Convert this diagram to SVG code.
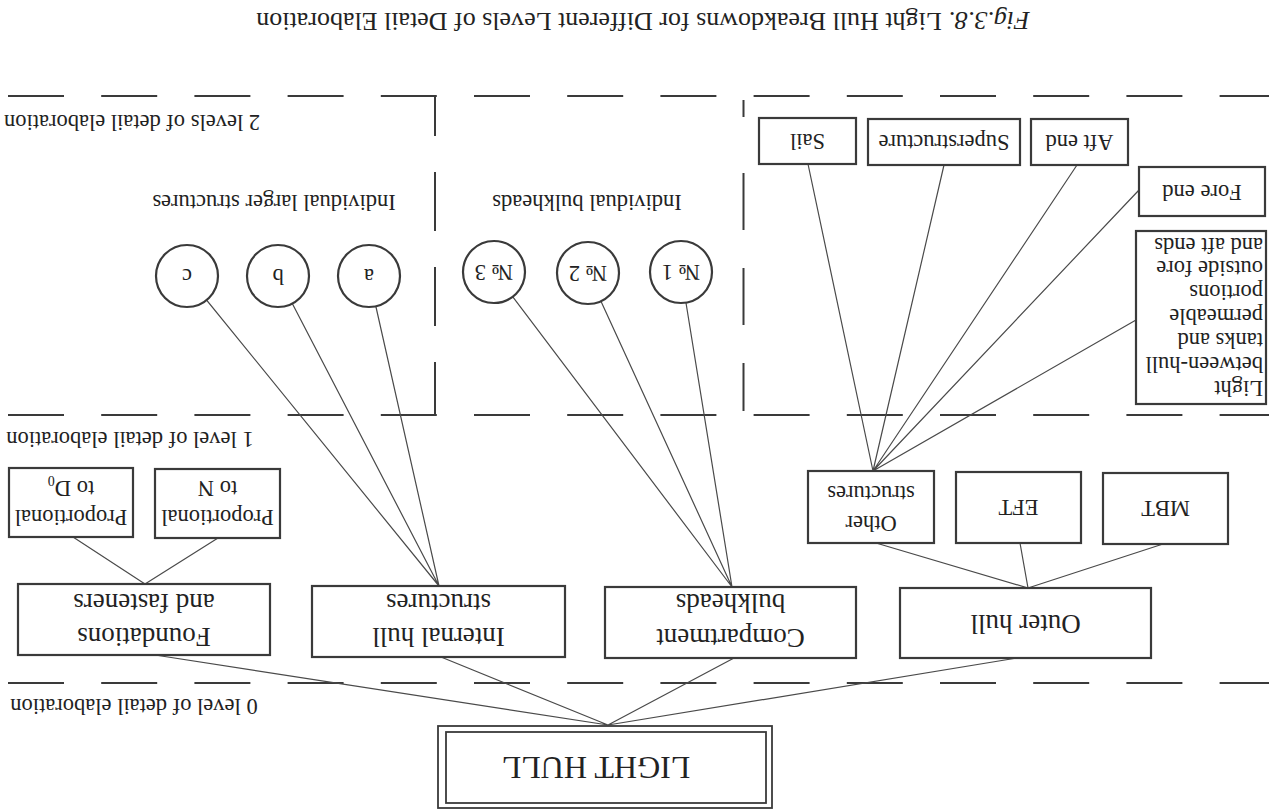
<svg xmlns="http://www.w3.org/2000/svg" width="1269" height="811" viewBox="0 0 1269 811">
  <style>
    text { font-family: "Liberation Serif", "DejaVu Serif", serif; fill: #222; dominant-baseline: central; text-anchor: middle; }
    .s { font-size: 22.5px; }
    .m { font-size: 27px; }
    .l { font-size: 32px; }
    .cap { font-size: 26px; }
    .box { fill: #fff; stroke: #3a3a3a; stroke-width: 2.2; }
    .circ { fill: #fff; stroke: #3a3a3a; stroke-width: 2.2; }
    .dash { fill: none; stroke: #3a3a3a; stroke-width: 2; }
    .conn { fill: none; stroke: #4a4a4a; stroke-width: 1.2; }
    .st { text-anchor: start; }
  </style>
  <rect width="1269" height="811" fill="#fff"/>

  <!-- The whole sheet is printed turned through 180 degrees; each label is rotated about its own anchor. -->
  <text class="cap" x="643" y="21" transform="rotate(180 643 21)"><tspan font-style="italic">Fig.3.8.</tspan> Light Hull Breakdowns for Different Levels of Detail Elaboration</text>

  <!-- level separators -->
  <g id="levels">
    <line class="dash" x1="8" y1="96" x2="1269" y2="96" stroke-dasharray="56 37.2"/>
    <line class="dash" x1="8" y1="415" x2="1269" y2="415" stroke-dasharray="56 37.2"/>
    <line class="dash" x1="8" y1="683" x2="1269" y2="683" stroke-dasharray="56 37.2"/>
    <line class="dash" x1="435" y1="96" x2="435" y2="415" stroke-dasharray="59 36" stroke-dashoffset="19"/>
    <path class="dash" d="M743.5 100V117M743.5 173V230M743.5 268V325M743.5 363V411"/>
    <text class="s" x="132" y="122" transform="rotate(180 132 122)">2 levels of detail elaboration</text>
    <text class="s" x="130" y="439" transform="rotate(180 130 439)">1 level of detail elaboration</text>
    <text class="s" x="134" y="706" transform="rotate(180 134 706)">0 level of detail elaboration</text>
    <text class="s" x="274" y="202" transform="rotate(180 274 202)">Individual larger structures</text>
    <text class="s" x="587" y="202" transform="rotate(180 587 202)">Individual bulkheads</text>
  </g>

  <!-- connectors -->
  <g id="connectors">
    <path class="conn" d="M608 725L155 655M608 725L441 657M608 725L734 658M608 725L1017 658"/>
    <path class="conn" d="M145 584L73 537M145 584L218 538"/>
    <path class="conn" d="M439 586L187 276M439 586L278 276M439 586L369 276"/>
    <path class="conn" d="M732 587L494 272M732 587L588 273M732 587L681 272"/>
    <path class="conn" d="M1028 588L876 543M1028 588L1020 543M1028 588L1163 544"/>
    <path class="conn" d="M873 471L808 164M873 471L944 165M873 471L1077 165M873 471L1139 190M873 471L1136 320"/>
  </g>

  <g id="light-hull">
    <rect x="438" y="726" width="334" height="82" fill="#fff" stroke="#3a3a3a" stroke-width="1.8"/>
    <rect x="446" y="732" width="320" height="71" fill="none" stroke="#3a3a3a" stroke-width="1.8"/>
    <text class="l" x="596" y="768" transform="rotate(180 596 768)">LIGHT HULL</text>
  </g>

  <g id="foundations">
    <rect class="box" x="18" y="584" width="252" height="71"/>
    <text class="m" x="144" y="637" transform="rotate(180 144 637)">Foundations</text>
    <text class="m" x="144" y="603" transform="rotate(180 144 603)">and fasteners</text>
  </g>
  <g id="internal-hull">
    <rect class="box" x="312" y="586" width="253" height="71"/>
    <text class="m" x="438.5" y="637" transform="rotate(180 438.5 637)">Internal hull</text>
    <text class="m" x="438.5" y="603" transform="rotate(180 438.5 603)">structures</text>
  </g>
  <g id="compartment">
    <rect class="box" x="605" y="587" width="251" height="71"/>
    <text class="m" x="730.5" y="638" transform="rotate(180 730.5 638)">Compartment</text>
    <text class="m" x="730.5" y="603" transform="rotate(180 730.5 603)">bulkheads</text>
  </g>
  <g id="outer-hull">
    <rect class="box" x="900" y="588" width="251" height="70"/>
    <text class="m" x="1025.5" y="624" transform="rotate(180 1025.5 624)">Outer hull</text>
  </g>

  <g id="prop-d0">
    <rect class="box" x="9" y="468" width="124" height="69"/>
    <text class="s" x="71" y="517" transform="rotate(180 71 517)">Proportional</text>
    <text class="s" x="71" y="488" transform="rotate(180 71 488)">to D<tspan font-size="14" baseline-shift="sub">0</tspan></text>
  </g>
  <g id="prop-n">
    <rect class="box" x="155" y="469" width="125" height="69"/>
    <text class="s" x="217.5" y="517" transform="rotate(180 217.5 517)">Proportional</text>
    <text class="s" x="217.5" y="488" transform="rotate(180 217.5 488)">to N</text>
  </g>

  <g id="other-structures">
    <rect class="box" x="808" y="471" width="126" height="72"/>
    <text class="s" x="871" y="523" transform="rotate(180 871 523)">Other</text>
    <text class="s" x="871" y="493" transform="rotate(180 871 493)">structures</text>
  </g>
  <g id="eft">
    <rect class="box" x="956" y="472" width="125" height="71"/>
    <text class="s" x="1018.5" y="507" transform="rotate(180 1018.5 507)">EFT</text>
  </g>
  <g id="mbt">
    <rect class="box" x="1103" y="473" width="125" height="71"/>
    <text class="s" x="1165.5" y="508" transform="rotate(180 1165.5 508)">MBT</text>
  </g>

  <g id="circle-c">
    <circle class="circ" cx="187" cy="276" r="31"/>
    <text class="s" x="187" y="276" transform="rotate(180 187 276)">c</text>
  </g>
  <g id="circle-b">
    <circle class="circ" cx="278" cy="276" r="31"/>
    <text class="s" x="278" y="276" transform="rotate(180 278 276)">b</text>
  </g>
  <g id="circle-a">
    <circle class="circ" cx="369" cy="276" r="31"/>
    <text class="s" x="369" y="276" transform="rotate(180 369 276)">a</text>
  </g>
  <g id="bulkhead-3">
    <circle class="circ" cx="494" cy="272" r="31"/>
    <text class="s" x="494" y="272" transform="rotate(180 494 272)">№ 3</text>
  </g>
  <g id="bulkhead-2">
    <circle class="circ" cx="588" cy="273" r="31"/>
    <text class="s" x="588" y="273" transform="rotate(180 588 273)">№ 2</text>
  </g>
  <g id="bulkhead-1">
    <circle class="circ" cx="681" cy="272" r="31"/>
    <text class="s" x="681" y="272" transform="rotate(180 681 272)">№ 1</text>
  </g>

  <g id="sail">
    <rect class="box" x="759" y="118" width="97" height="46"/>
    <text class="s" x="807.5" y="141" transform="rotate(180 807.5 141)">Sail</text>
  </g>
  <g id="superstructure">
    <rect class="box" x="868" y="119" width="152" height="46"/>
    <text class="s" x="944" y="142" transform="rotate(180 944 142)">Superstructure</text>
  </g>
  <g id="aft-end">
    <rect class="box" x="1031" y="119" width="97" height="46"/>
    <text class="s" x="1079.5" y="142" transform="rotate(180 1079.5 142)">Aft end</text>
  </g>
  <g id="fore-end">
    <rect class="box" x="1139" y="167" width="126" height="49"/>
    <text class="s" x="1202" y="192" transform="rotate(180 1202 192)">Fore end</text>
  </g>
  <g id="between-hull">
    <rect class="box" x="1136" y="231" width="130" height="173"/>
    <text class="s st" x="1263" y="388" transform="rotate(180 1263 388)">Light</text>
    <text class="s st" x="1263" y="364" transform="rotate(180 1263 364)">between-hull</text>
    <text class="s st" x="1263" y="340.2" transform="rotate(180 1263 340.2)">tanks and</text>
    <text class="s st" x="1263" y="316.4" transform="rotate(180 1263 316.4)">permeable</text>
    <text class="s st" x="1263" y="292.6" transform="rotate(180 1263 292.6)">portions</text>
    <text class="s st" x="1263" y="268.8" transform="rotate(180 1263 268.8)">outside fore</text>
    <text class="s st" x="1263" y="245" transform="rotate(180 1263 245)">and aft ends</text>
  </g>
</svg>
